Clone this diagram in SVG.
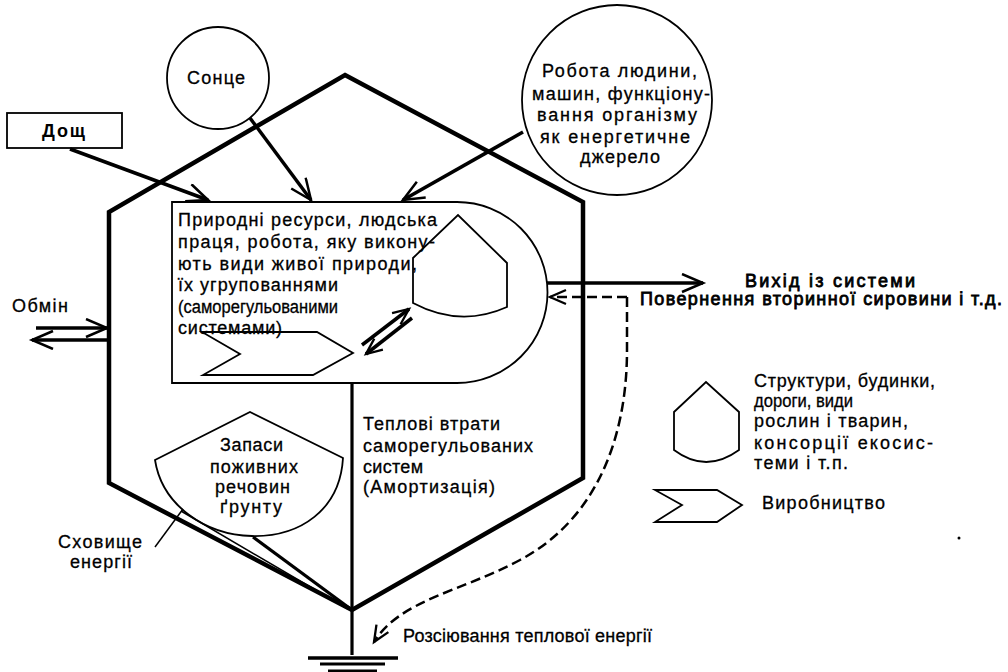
<svg xmlns="http://www.w3.org/2000/svg" width="1008" height="672" viewBox="0 0 1008 672">
<defs>
<style>
text{font-family:"Liberation Sans","DejaVu Sans",sans-serif;font-size:18px;fill:#000;stroke:#000;stroke-width:0.3}
.b{font-weight:bold;stroke-width:0}
.m{stroke-width:0.8}
.shape{fill:none;stroke:#000;stroke-width:1.8}
.hex{fill:none;stroke:#000;stroke-width:4.5;stroke-linejoin:miter}
.arr{fill:none;stroke:#000;stroke-width:3.5}
.thk{fill:none;stroke:#000;stroke-width:3.2}
.thin{fill:none;stroke:#000;stroke-width:1.5}
.dash{fill:none;stroke:#000;stroke-width:2.5;stroke-dasharray:10 5}
</style>
<marker id="ah" markerUnits="userSpaceOnUse" markerWidth="26" markerHeight="22" refX="22" refY="10" orient="auto">
<path d="M1,1 L22,10 L1,19" fill="none" stroke="#000" stroke-width="2.5"/>
</marker>
<marker id="ahs" markerUnits="userSpaceOnUse" markerWidth="20" markerHeight="18" refX="17" refY="9" orient="auto">
<path d="M1,2 L17,9 L1,16" fill="none" stroke="#000" stroke-width="2.3"/>
</marker>
</defs>
<rect width="1008" height="672" fill="#fff"/>

<g id="hexagon">
<path class="hex" d="M345,75 L583,202 L583,478 L352,610 L109,483 L109,212 Z"/>
</g>

<g id="connectors">
<line class="arr" x1="70" y1="149" x2="208" y2="200" marker-end="url(#ah)"/>
<line class="arr" x1="250" y1="118" x2="311" y2="200" marker-end="url(#ah)"/>
<line class="arr" x1="523" y1="132" x2="403" y2="200" marker-end="url(#ah)"/>
<line class="arr" x1="36" y1="328" x2="107" y2="328" marker-end="url(#ah)"/>
<line class="arr" x1="107" y1="340" x2="32" y2="340" marker-end="url(#ah)"/>
<line class="arr" x1="547" y1="283" x2="703" y2="283" marker-end="url(#ah)"/>
<line class="arr" x1="362" y1="345" x2="409" y2="309" marker-end="url(#ahs)"/>
<line class="arr" x1="412" y1="318" x2="366" y2="354" marker-end="url(#ahs)"/>
<path class="dash" d="M627,297 H550" marker-end="url(#ahs)"/>
<path class="dash" d="M627,297 V350 C627,440 595,520 520,560 C460,592 400,600 374,642" marker-end="url(#ahs)"/>
<line class="thk" x1="352" y1="383" x2="352" y2="655"/>
<line class="thk" x1="253" y1="537" x2="352" y2="610"/>
<line class="thin" x1="181" y1="511" x2="348" y2="609"/>
<line class="thin" x1="155" y1="547" x2="183" y2="509"/>
<line stroke="#000" stroke-width="3.5" x1="308" y1="658" x2="398" y2="658"/>
<line stroke="#000" stroke-width="3" x1="320" y1="664" x2="385" y2="664"/>
<line stroke="#000" stroke-width="3" x1="328" y1="671" x2="377" y2="671"/>
</g>

<g id="rain">
<rect class="shape" x="7" y="113" width="115" height="35"/>
<text class="b" x="42" y="137" textLength="43" lengthAdjust="spacing">Дощ</text>
</g>

<g id="sun">
<circle class="shape" cx="218" cy="78" r="51"/>
<text x="187" y="84" textLength="58" lengthAdjust="spacing">Сонце</text>
</g>

<g id="work">
<circle class="shape" cx="617" cy="100" r="95"/>
<text x="542" y="77" textLength="155" lengthAdjust="spacing">Робота людини,</text>
<text x="532" y="100" textLength="178" lengthAdjust="spacing">машин, функціону-</text>
<text x="537" y="121" textLength="160" lengthAdjust="spacing">вання організму</text>
<text x="540" y="143" textLength="150" lengthAdjust="spacing">як енергетичне</text>
<text x="580" y="163" textLength="80" lengthAdjust="spacing">джерело</text>
</g>

<g id="resources">
<path class="shape" d="M172,202 H457 A90.5,90.5 0 0 1 457,383 H172 Z"/>
<text x="178" y="226" textLength="259" lengthAdjust="spacing">Природні ресурси, людська</text>
<text x="178" y="248" textLength="257" lengthAdjust="spacing">праця, робота, яку викону-</text>
<text x="178" y="270" textLength="239" lengthAdjust="spacing">ють види живої природи,</text>
<text x="178" y="291" textLength="160" lengthAdjust="spacing">їх угрупованнями</text>
<text x="178" y="313" textLength="160" lengthAdjust="spacingAndGlyphs">(саморегульованими</text>
<text x="178" y="334" textLength="104" lengthAdjust="spacing">системами)</text>
<path class="shape" d="M413,258 L458,215 L507,263 L507,307 Q460,328 413,303 Z" fill="#fff"/>
<path class="shape" d="M202,332 L317,332 L353,353 L313,375 L203,375 L240,354 Z"/>
</g>

<g id="soil">
<path class="shape" d="M155,460 L250,412 L343,458 C340,510 300,537 252,536 C205,535 162,505 155,460 Z"/>
<text x="220" y="451" textLength="63" lengthAdjust="spacing">Запаси</text>
<text x="210" y="473" textLength="88" lengthAdjust="spacing">поживних</text>
<text x="215" y="493" textLength="75" lengthAdjust="spacing">речовин</text>
<text x="220" y="513" textLength="62" lengthAdjust="spacing">ґрунту</text>
</g>

<g id="storage-label">
<text x="58" y="548" textLength="84" lengthAdjust="spacing">Сховище</text>
<text x="70" y="568" textLength="62" lengthAdjust="spacing">енергії</text>
</g>

<g id="exchange-label">
<text x="12" y="312" textLength="56" lengthAdjust="spacing">Обмін</text>
</g>

<g id="heat-loss-label">
<text x="363" y="430" textLength="137" lengthAdjust="spacing">Теплові втрати</text>
<text x="363" y="452" textLength="170" lengthAdjust="spacing">саморегульованих</text>
<text x="363" y="473" textLength="60" lengthAdjust="spacing">систем</text>
<text x="363" y="493" textLength="132" lengthAdjust="spacing">(Амортизація)</text>
</g>

<g id="output-labels">
<text class="m" x="745" y="287" textLength="170" lengthAdjust="spacing">Вихід із системи</text>
<text class="m" x="640" y="305" textLength="362" lengthAdjust="spacing">Повернення вторинної сировини і т.д.</text>
</g>

<g id="dissipation-label">
<text x="403" y="642" textLength="249" lengthAdjust="spacing">Розсіювання теплової енергії</text>
</g>

<g id="legend-structures">
<path class="shape" d="M674,412 L706,382 L739,412 L739,450 Q706,474 674,450 Z"/>
<text x="754" y="387" textLength="181" lengthAdjust="spacing">Структури, будинки,</text>
<text x="754" y="407" textLength="99" lengthAdjust="spacingAndGlyphs">дороги, види</text>
<text x="754" y="427" textLength="154" lengthAdjust="spacing">рослин і тварин,</text>
<text x="754" y="449" textLength="179" lengthAdjust="spacing">консорції екосис-</text>
<text x="754" y="469" textLength="94" lengthAdjust="spacing">теми і т.п.</text>
</g>

<g id="legend-production">
<path class="shape" d="M655,490 L717,490 L742,505 L717,522 L655,522 L682,505 Z"/>
<text x="762" y="509" textLength="123" lengthAdjust="spacing">Виробництво</text>
</g>

<circle cx="959" cy="538" r="1.5" fill="#000"/>
</svg>
